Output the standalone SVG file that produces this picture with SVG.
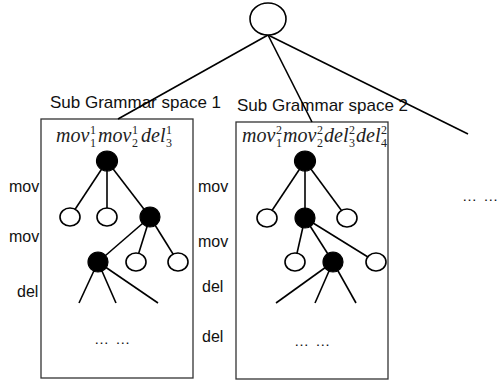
<svg xmlns="http://www.w3.org/2000/svg" width="498" height="387" viewBox="0 0 498 387">
  <style>
    .lbl { font-family: "Liberation Sans", Arial, sans-serif; font-size: 17px; fill: #111; }
    .side { font-family: "Liberation Sans", Arial, sans-serif; font-size: 16px; fill: #111; }
    .dots { font-family: "Liberation Sans", Arial, sans-serif; font-size: 15px; fill: #111; letter-spacing: 1px; }
    .f { font-family: "Liberation Serif", "Times New Roman", serif; font-size: 20px; font-style: italic; fill: #222; }
    .s { font-family: "Liberation Serif", "Times New Roman", serif; font-size: 12px; fill: #222; }
    .box { fill: #fff; stroke: #333; stroke-width: 1.3; }
    .edge { stroke: #000; stroke-width: 1.6; fill: none; }
    .open { fill: #fff; stroke: #000; stroke-width: 1.6; }
    .full { fill: #000; stroke: #000; stroke-width: 1.2; }
  </style>

  <!-- level labels on the left of each space -->
  <g id="levels">
    <text class="side" x="9" y="192">mov</text>
    <text class="side" x="9" y="242">mov</text>
    <text class="side" x="17" y="297">del</text>
    <text class="side" x="198" y="192">mov</text>
    <text class="side" x="198" y="247">mov</text>
    <text class="side" x="202" y="292">del</text>
    <text class="side" x="202" y="342">del</text>
  </g>

  <!-- sub grammar space 1 -->
  <g id="space1">
    <rect class="box" x="41" y="119" width="152" height="259"/>
    <text class="f" x="56" y="142">mov</text>
    <text class="s" x="90" y="134">1</text><text class="s" x="90" y="147">1</text>
    <text class="f" x="98" y="142">mov</text>
    <text class="s" x="132" y="134">1</text><text class="s" x="132" y="147">2</text>
    <text class="f" x="141" y="142">del</text>
    <text class="s" x="166" y="134">1</text><text class="s" x="166" y="147">3</text>
    <text class="dots" x="94" y="344">… …</text>
  </g>

  <!-- sub grammar space 2 -->
  <g id="space2">
    <rect class="box" x="236" y="122" width="152" height="257"/>
    <text class="f" x="242" y="142">mov</text>
    <text class="s" x="276" y="134">2</text><text class="s" x="276" y="147">1</text>
    <text class="f" x="283" y="142">mov</text>
    <text class="s" x="317" y="134">2</text><text class="s" x="317" y="147">2</text>
    <text class="f" x="324" y="142">del</text>
    <text class="s" x="349" y="134">2</text><text class="s" x="349" y="147">3</text>
    <text class="f" x="356" y="142">del</text>
    <text class="s" x="381" y="134">2</text><text class="s" x="381" y="147">4</text>
    <text class="dots" x="294" y="346">… …</text>
  </g>

  <g id="space-titles">
    <text class="lbl" x="50" y="108">Sub Grammar space 1</text>
    <text class="lbl" x="237" y="111">Sub Grammar space 2</text>
  </g>

  <g id="more">
    <text class="dots" x="462" y="201">… …</text>
  </g>

  <!-- connectors -->
  <g id="connectors">
    <line class="edge" x1="268" y1="35" x2="118" y2="119"/>
    <line class="edge" x1="268" y1="35" x2="312" y2="122"/>
    <line class="edge" x1="268" y1="35" x2="468" y2="134"/>
    <!-- tree 1 -->
    <line class="edge" x1="107" y1="161" x2="70" y2="217"/>
    <line class="edge" x1="107" y1="161" x2="107" y2="217"/>
    <line class="edge" x1="107" y1="161" x2="150" y2="217"/>
    <line class="edge" x1="150" y1="217" x2="98" y2="262"/>
    <line class="edge" x1="150" y1="217" x2="136" y2="262"/>
    <line class="edge" x1="150" y1="217" x2="178" y2="262"/>
    <line class="edge" x1="98" y1="262" x2="79" y2="303"/>
    <line class="edge" x1="98" y1="262" x2="116" y2="303"/>
    <line class="edge" x1="98" y1="262" x2="158" y2="303"/>
    <!-- tree 2 -->
    <line class="edge" x1="305" y1="161" x2="267" y2="218"/>
    <line class="edge" x1="305" y1="161" x2="305" y2="218"/>
    <line class="edge" x1="305" y1="161" x2="347" y2="218"/>
    <line class="edge" x1="305" y1="218" x2="295" y2="262"/>
    <line class="edge" x1="305" y1="218" x2="333" y2="262"/>
    <line class="edge" x1="305" y1="218" x2="376" y2="262"/>
    <line class="edge" x1="333" y1="262" x2="276" y2="303"/>
    <line class="edge" x1="333" y1="262" x2="315" y2="303"/>
    <line class="edge" x1="333" y1="262" x2="356" y2="303"/>
  </g>

  <!-- nodes -->
  <g id="root"><ellipse class="open" cx="268" cy="19" rx="18" ry="16"/></g>
  <g id="t1-n0"><ellipse class="full" cx="107" cy="161" rx="10.5" ry="10"/></g>
  <g id="t1-n1"><ellipse class="open" cx="70" cy="217" rx="10" ry="9"/></g>
  <g id="t1-n2"><ellipse class="open" cx="107" cy="217" rx="10" ry="9"/></g>
  <g id="t1-n3"><ellipse class="full" cx="150" cy="217" rx="10" ry="10"/></g>
  <g id="t1-n4"><ellipse class="full" cx="98" cy="262" rx="10" ry="10"/></g>
  <g id="t1-n5"><ellipse class="open" cx="136" cy="262" rx="10" ry="9"/></g>
  <g id="t1-n6"><ellipse class="open" cx="178" cy="262" rx="10" ry="9"/></g>
  <g id="t2-n0"><ellipse class="full" cx="305" cy="161" rx="10.5" ry="10"/></g>
  <g id="t2-n1"><ellipse class="open" cx="267" cy="218" rx="10" ry="9"/></g>
  <g id="t2-n2"><ellipse class="full" cx="305" cy="218" rx="10" ry="10"/></g>
  <g id="t2-n3"><ellipse class="open" cx="347" cy="218" rx="10" ry="9"/></g>
  <g id="t2-n4"><ellipse class="open" cx="295" cy="262" rx="10" ry="9"/></g>
  <g id="t2-n5"><ellipse class="full" cx="333" cy="262" rx="10" ry="10"/></g>
  <g id="t2-n6"><ellipse class="open" cx="376" cy="262" rx="10" ry="9"/></g>
</svg>
